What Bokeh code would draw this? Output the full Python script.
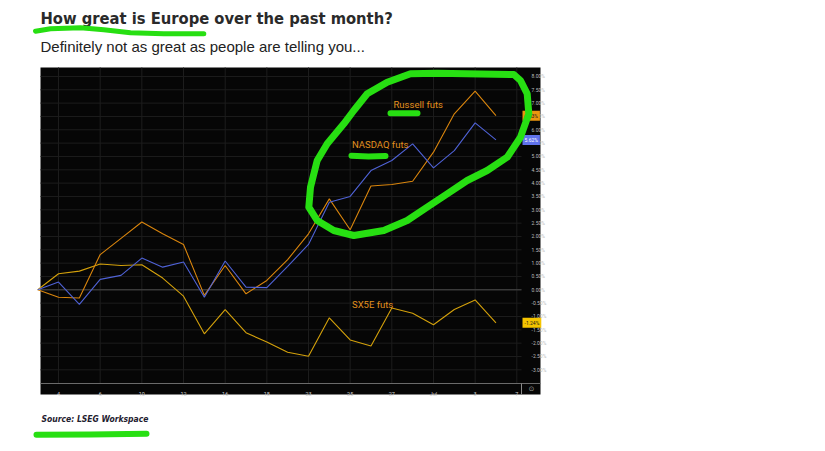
from bokeh.plotting import figure
from bokeh.models import (Range1d, FixedTicker, PrintfTickFormatter, Label, LinearAxis,
                          PolyAnnotation, BoxAnnotation)
from bokeh.embed import file_html
from bokeh.resources import INLINE

# ---------------- data (cumulative % change, trading-day index) ----------------
day_index = list(range(23))
russell = [0.0, -0.28, -0.31, 1.32, 1.93, 2.54, 2.10, 1.70, -0.21, 0.91, -0.15, 0.35,
           1.13, 2.10, 3.41, 2.25, 3.89, 3.95, 4.07, 5.16, 6.60, 7.45, 6.53]
nasdaq = [0.0, 0.29, -0.55, 0.39, 0.54, 1.19, 0.85, 1.04, -0.28, 1.08, 0.10, 0.08,
          0.88, 1.70, 3.28, 3.50, 4.47, 4.85, 5.47, 4.57, 5.22, 6.26, 5.62]
sx5e = [0.0, 0.60, 0.70, 0.97, 0.91, 0.94, 0.44, -0.24, -1.65, -0.74, -1.61, -1.96,
        -2.34, -2.49, -1.05, -1.88, -2.11, -0.68, -0.88, -1.31, -0.74, -0.38, -1.24]

x_tick_pos = [1, 3, 5, 7, 9, 11, 13, 15, 17, 19, 21, 23]
x_tick_labels = ["4", "6", "10", "12", "16", "18", "23", "25", "27", "Jul", "3", "7"]
y_ticks = [-3.0 + 0.5 * i for i in range(23)]

# ---------------- layout (page pixels -> data space) ----------------
W, H = 825, 451
FR_RIGHT, FR_BOTTOM = 795, 439          # frame covers the page up to the axis panels
IDX0_PX, PX_PER_IDX = 37.2, 20.83       # page x of day 0, pixels per day
ZERO_PY, PX_PER_PCT = 289.3, 26.67      # page y of 0 %, pixels per 1 %


def dx(px):
    return (px - IDX0_PX) / PX_PER_IDX


def dy(py):
    return (ZERO_PY - py) / PX_PER_PCT


X_START, X_END = dx(40), dx(521)        # chart plotting area
Y_START, Y_END = dy(383), dy(67)

RUS_C = "#d9850d"
NDQ_C = "#4f62d6"
SX_C = "#d4a10b"
GREEN = "#27df12"
BG = "#060606"
GRID = "#1d1d1d"

p = figure(width=W, height=H,
           x_range=Range1d(dx(0), dx(FR_RIGHT)), y_range=Range1d(dy(FR_BOTTOM), dy(0)),
           x_axis_location=None, y_axis_location=None,
           output_backend="svg", toolbar_location=None,
           min_border_left=0, min_border_top=0,
           min_border_right=W - FR_RIGHT, min_border_bottom=H - FR_BOTTOM,
           background_fill_color="white", border_fill_color="white", outline_line_color=None)
p.grid.visible = False

# black chart panel incl. axis strips
p.add_layout(BoxAnnotation(left=dx(40), right=dx(540), top=dy(67), bottom=dy(394),
                           fill_color=BG, fill_alpha=1, line_color=None, level="underlay"))

# grid lines from the tick arrays
p.segment(x0=x_tick_pos, x1=x_tick_pos, y0=[Y_START] * len(x_tick_pos), y1=[Y_END] * len(x_tick_pos),
          line_color=GRID, line_width=1)
p.segment(x0=[X_START] * len(y_ticks), x1=[X_END] * len(y_ticks), y0=y_ticks, y1=y_ticks,
          line_color=GRID, line_width=1)
p.segment(x0=[X_START], x1=[X_END], y0=[0], y1=[0], line_color="#4a4a4a", line_width=1)

# axes at the chart edges
yax = LinearAxis(fixed_location=X_END, bounds=(Y_START, dy(394)),
                 ticker=FixedTicker(ticks=y_ticks), formatter=PrintfTickFormatter(format="%.2f%%"))
yax.major_label_text_font_size = "5px"
yax.major_label_text_font = "Roboto"
yax.major_label_text_color = "#bdbdbd"
yax.axis_line_color = "#8a8a8a"
yax.major_tick_line_color = None
yax.minor_tick_line_color = None
yax.major_label_standoff = 4
p.add_layout(yax, "right")

xax = LinearAxis(fixed_location=Y_START, bounds=(X_START, dx(540)),
                 ticker=FixedTicker(ticks=x_tick_pos))
xax.major_label_overrides = {k: v for k, v in zip(x_tick_pos, x_tick_labels)}
xax.major_label_text_font_size = "5.5px"
xax.major_label_text_font = "Roboto"
xax.major_label_text_color = "#d0d0d0"
xax.axis_line_color = "#6a6a6a"
xax.major_tick_line_color = None
xax.minor_tick_line_color = None
xax.major_label_standoff = 1
p.add_layout(xax, "below")

# series
p.line(day_index, sx5e, line_color=SX_C, line_width=1.1)
p.line(day_index, russell, line_color=RUS_C, line_width=1.1)
p.line(day_index, nasdaq, line_color=NDQ_C, line_width=1.1)

# in-chart series labels
for txt, px, py in [("Russell futs", 393, 103.5), ("NASDAQ futs", 351.5, 143.5), ("SX5E futs", 351.5, 304)]:
    p.add_layout(Label(x=dx(px), y=dy(py), text=txt, text_font="Roboto",
                       text_font_size="9.5px", text_color="#e2901e", text_baseline="middle",
                       text_align="left"))

# last-value tags on the right axis
for val, bg, fg in [(russell[-1], "#ec960f", "#1a1a1a"), (nasdaq[-1], "#5f72ec", "#ffffff"),
                    (sx5e[-1], "#f5c400", "#1a1a1a")]:
    p.add_layout(Label(x=X_END, y=val, text=f"{val:.2f}%", text_font="Roboto",
                       text_font_size="5px", text_color=fg, text_baseline="middle",
                       text_align="left", x_offset=1, background_fill_color=bg,
                       padding=2))

p.add_layout(Label(x=dx(531), y=dy(388.5), text="⊙", text_font="DejaVu Sans",
                   text_font_size="7px", text_color="#9a9a9a", text_baseline="middle",
                   text_align="center"))

# titles
p.add_layout(Label(x=dx(40), y=dy(17.5), text="How great is Europe over the past month?",
                   text_font="'DejaVu Sans Condensed', Roboto", text_font_style="bold",
                   text_font_size="16.4px", text_color="#2a2a2a", text_baseline="middle"))
p.add_layout(Label(x=dx(40), y=dy(46), text="Definitely not as great as people are telling you...",
                   text_font="Liberation Sans", text_font_size="15px", text_color="#222222",
                   text_baseline="middle"))
p.add_layout(Label(x=dx(41), y=dy(418.7), text="Source: LSEG Workspace",
                   text_font="'DejaVu Sans Condensed', Roboto", text_font_style="bold italic",
                   text_font_size="8.5px", text_color="#1f2130", text_baseline="middle"))

# hand-drawn green highlights (page pixel paths)
ellipse_px = [(410, 73.3), (436.7, 72.7), (513.3, 74), (520, 80), (526.7, 93.3), (528.3, 113.3),
              (520, 136.7), (506.7, 156.7), (486.7, 170), (466.7, 180), (446.7, 193.3),
              (426.7, 206.7), (406.7, 220), (383.3, 230), (353.3, 235), (333.3, 230),
              (316.7, 220), (308.3, 206.7), (310, 186.7), (316.7, 160), (326.7, 143.3),
              (343.3, 123.3), (353.3, 110), (366.7, 93.3), (386.7, 81.7)]
strokes = [
    ([(35, 30.7), (50, 28.3), (80, 27.3), (103.3, 29.3), (130, 32.3), (163.3, 33.3), (203.3, 33.3)], 5),
    ([(390, 112.7), (417, 112.7)], 6),
    ([(351, 155.2), (368, 156), (385, 155.5)], 6),
    ([(36, 434.3), (90, 434), (146, 433.3)], 6),
]
p.add_layout(PolyAnnotation(xs=[dx(a) for a, b in ellipse_px], ys=[dy(b) for a, b in ellipse_px],
                            fill_alpha=0, line_alpha=1,
                            line_color=GREEN, line_width=7, line_join="round", level="overlay"))
for path, w in strokes:
    full = path + path[::-1]
    p.add_layout(PolyAnnotation(xs=[dx(a) for a, b in full], ys=[dy(b) for a, b in full],
                                fill_alpha=0, line_alpha=1,
                                line_color=GREEN, line_width=w, line_join="round",
                                level="overlay"))

open("out.html", "w").write(file_html(p, INLINE))
